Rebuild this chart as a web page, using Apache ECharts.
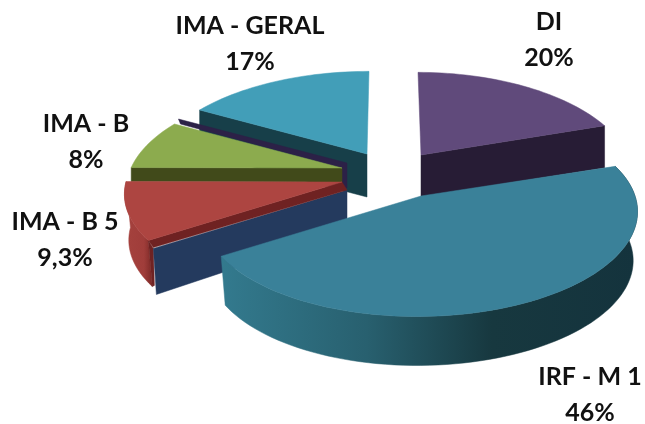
<!DOCTYPE html>
<html><head><meta charset="utf-8">
<style>html,body{margin:0;padding:0;background:#fff}#c{width:645px;height:424px}</style>
<script src="https://cdn.jsdelivr.net/npm/echarts@6/dist/echarts.min.js"></script>
</head><body><div id="c"></div>
<script>
var categories = ['DI', 'IRF - M 1', 'IMA - B 5', 'IMA - B', 'IMA - GERAL'];
var shares = [20, 46, 9.3, 8, 17];

// Projection of the tilted pie
var P = 0.21, KY = 100;
// Exploded position, look and label place of each slice (same order as categories)
var looks = [
  {x:421,y:155,R:207,lean:3,depth:42,wall:false,top:'#604a7b',side:'#2a1f38',cut:'end',cutFill:'#271c35',order:2,lx:549,ly:22},
  {x:421,y:196,R:214,persp:0.17,lean:-4,depth:49,wall:true,top:'#3a8199',order:5,lx:590,ly:377,
   side:[['0','#337a8e'],['0.35','#28606f'],['0.65','#17383f'],['1','#14333d']]},
  {x:342,y:182,R:216,persp:0.12,lean:0,depth:46,wall:true,top:'#ad4541',order:4,lx:65,ly:222,
   side:[['0','#a5423e'],['0.7','#a03d3a'],['1','#7a2826']],
   cut:'start',cutFill:'#243a5e',cutShift:[5,8],cutDrop:[3,41],stripe:'#6f2222'},
  {x:342,y:168,R:211,lean:0,depth:14,wall:false,top:'#8cab4e',side:'#414a1a',cut:'start',cutFill:'#414a1a',order:3,lx:86,ly:124,
   back:'#2c2147'},
  {x:367,y:154,R:212,lean:-2,depth:43,wall:false,top:'#429eb8',side:'#173f49',cut:'start',cutFill:'#173f49',order:1,lx:250,ly:26}
];

var total = shares.reduce(function(a,b){return a+b;},0);
var sliceStart = [], acc = 0;
shares.forEach(function(v){ sliceStart.push(acc/total*360); acc += v; });

function proj(s,deg){
  var a = deg*Math.PI/180, u = Math.sin(a), v = -Math.cos(a), k = 1/(1-(s.persp||P)*v);
  return [s.x + s.R*u*k + s.lean*v, s.y + KY*v*k];
}
function arc(s,a0,a1){
  var pts=[], n=Math.max(2,Math.ceil(Math.abs(a1-a0)/2));
  for(var i=0;i<=n;i++) pts.push(proj(s,a0+(a1-a0)*i/n));
  return pts;
}
function drop(s,p){ return [s.x+(p[0]-s.x)*0.98, p[1]+s.depth]; }
function fillOf(c){
  if(typeof c==='string') return c;
  return new echarts.graphic.LinearGradient(0,0,1,0,c.map(function(t){return {offset:+t[0],color:t[1]};}));
}
function poly(points,fill,z){
  return {type:'polygon',z2:z,shape:{points:points},style:{fill:fill,stroke:fill,lineWidth:0.5}};
}
function label(s,name,val){
  var font='bold 25px Lato, "Open Sans", sans-serif';
  return {type:'group',z2:100,children:[
    {type:'text',z2:100,style:{text:name,x:s.lx,y:s.ly,align:'center',verticalAlign:'middle',fill:'#111',font:font}},
    {type:'text',z2:100,style:{text:String(val).replace('.',',')+'%',x:s.lx,y:s.ly+36,align:'center',verticalAlign:'middle',fill:'#111',font:font}}
  ]};
}
function renderItem(params,api){
  var i=params.dataIndex, s=looks[i], val=api.value(0);
  var a0=sliceStart[i], a1=a0+val/total*360, z=s.order*10, kids=[];
  var rim=arc(s,a0,a1), apex=[s.x,s.y];
  if(s.back){
    var t=proj(s,a1);
    kids.push(poly([[t[0]+4,t[1]-5],[s.x+5,s.y-5],[s.x+5,s.y+20],[s.x,s.y+20],[s.x,s.y],[t[0]+6,t[1]]],s.back,z));
  }
  if(s.wall) kids.push(poly(rim.concat(rim.map(function(p){return drop(s,p);}).reverse()),fillOf(s.side),z+1));
  if(s.cut){
    var tip=proj(s,s.cut==='start'?a0:a1);
    var sh=s.cutShift||[0,0];
    var dn=s.cutDrop?s.cutDrop[1]:s.depth;
    if(s.stripe){
      kids.push(poly([apex,tip,[tip[0]+5,tip[1]+7],[apex[0]+5,apex[1]+8]],s.stripe,z+3));
      var d=drop(s,tip);
      kids.push(poly([tip,[tip[0]+sh[0],tip[1]+sh[1]],[tip[0]+sh[0]+1,d[1]-1],d],s.stripe,z+1));
    }
    kids.push(poly([
      [apex[0]+sh[0],apex[1]+sh[1]],[tip[0]+sh[0],tip[1]+sh[1]],
      [tip[0]+sh[0]+(s.cutDrop?s.cutDrop[0]:0),tip[1]+sh[1]+dn+(s.cutDrop?5:0)],
      [apex[0]+sh[0],apex[1]+sh[1]+dn]
    ],s.cutFill,z+2));
  }
  kids.push(poly([apex].concat(rim),s.top,z+4));
  kids.push(label(s,api.value(1),val));
  return {type:'group',children:kids};
}
var chart=echarts.init(document.getElementById('c'),null,{renderer:'canvas'});
chart.setOption({
  animation:false,
  backgroundColor:'#fff',
  series:[{type:'custom',coordinateSystem:'none',silent:true,renderItem:renderItem,
    encode:{value:0},
    data:shares.map(function(v,i){return [v,categories[i]];})}]
});
</script></body></html>
